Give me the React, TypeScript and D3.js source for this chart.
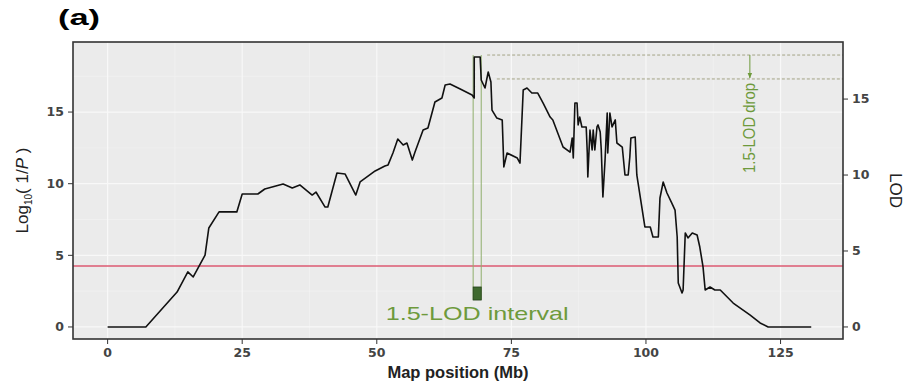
import React from 'react'
import * as d3 from 'd3'

// QTL scan
const positionMb = [
	0, 7.1, 12.9, 14.9, 15.9, 18.1, 18.8, 20.7, 24.0, 25.0, 27.9, 29.2, 32.6, 34.3, 35.7, 38.0, 38.7, 40.4, 40.9,
	42.6, 44.1, 46.1, 46.9, 49.7, 51.5, 52.1, 53.0, 53.9, 54.9, 55.6, 56.6, 57.1, 58.6, 59.5, 60.8, 62.1, 62.7,
	63.6, 65.5, 67.7, 68.1, 68.1, 69.2, 69.4, 70.1, 70.7, 71.2, 71.4, 72.3, 73.3, 73.6, 74.2, 76.1, 76.6, 77.2,
	77.9, 78.8, 79.9, 80.9, 82.2, 82.7, 84.6, 85.9, 86.3, 86.5, 86.8, 87.2, 87.4, 87.7, 88.1, 88.9, 89.1, 89.2,
	89.6, 90.0, 90.2, 90.5, 90.9, 91.1, 91.5, 91.7, 92.0, 92.4, 92.8, 92.9, 93.3, 93.7, 94.3, 94.6, 95.6, 96.1,
	96.7, 97.0, 97.2, 98.0, 98.3, 99.8, 100.8, 101.3, 102.3, 102.6, 103.2, 103.9, 104.8, 105.4, 105.8, 106.0,
	106.7, 106.9, 107.3, 107.8, 108.6, 109.5, 110.0, 110.6, 111.0, 111.9, 112.8, 113.8, 116.2, 119.3, 121.2,
	122.7, 130.7,
]
const log10P = [
	0, 0, 2.44, 3.84, 3.49, 5.02, 6.91, 8.03, 8.03, 9.28, 9.28, 9.63, 9.98, 9.7, 9.91, 9.21, 9.42, 8.37, 8.37,
	10.75, 10.68, 9.21, 10.12, 10.89, 11.24, 11.31, 12.14, 13.12, 12.7, 12.84, 11.65, 12.21, 13.75, 13.89, 15.7,
	15.98, 16.89, 16.96, 16.61, 16.19, 15.98, 18.84, 18.84, 17.24, 16.68, 17.8, 17.1, 15.14, 14.58, 14.45, 11.17,
	12.14, 11.79, 11.44, 16.54, 16.68, 16.33, 16.33, 15.63, 14.65, 14.45, 12.56, 12.21, 13.19, 11.79, 15.63,
	15.63, 14.1, 14.65, 13.96, 13.96, 12.14, 10.47, 13.75, 12.35, 13.75, 12.35, 13.96, 14.1, 13.61, 12.35, 9.07,
	11.65, 14.93, 12.14, 14.93, 13.96, 14.45, 12.84, 12.56, 10.61, 10.61, 11.86, 13.19, 13.26, 10.61, 6.98, 6.98,
	6.28, 6.28, 9.0, 10.12, 9.35, 8.65, 8.16, 6.28, 3.07, 2.37, 2.58, 6.56, 6.21, 6.56, 6.42, 5.58, 4.19, 2.58,
	2.79, 2.58, 2.58, 1.67, 0.84, 0.28, 0, 0,
]

const xTicks = [0, 25, 50, 75, 100, 125]
const yTicks = [0, 5, 10, 15]
const lodTicks = [0, 5, 10, 15]
const lodPerLog10P = 0.943
const threshold = 4.26
const intervalMb = [67.9, 69.4]
const intervalBox = [1.88, 2.79]
const peakLevel = 18.98
const dropLevel = 17.31
const dropStartMb = [70.5, 72.3]
const arrowMb = 119.3

const W = 905
const H = 383
const panel = { left: 73, right: 843, top: 42, bottom: 339 }
const green = '#6e9a3c'
const tickFont = 'DejaVu Sans, sans-serif'
const narrow = '"Liberation Sans Narrow", "Liberation Sans", Arial, sans-serif'

export default function App() {
	const x = d3.scaleLinear().domain([-6.43, 136.6]).range([panel.left, panel.right])
	const y = d3.scaleLinear().domain([-0.84, 19.89]).range([panel.bottom, panel.top])
	const yLod = d3
		.scaleLinear()
		.domain([-0.84 * lodPerLog10P, 19.89 * lodPerLog10P])
		.range([panel.bottom, panel.top])

	const pts = positionMb.map((p, i) => [p, log10P[i]] as [number, number])
	const line = d3
		.line<[number, number]>()
		.x((d) => x(d[0]))
		.y((d) => y(d[1]))

	const xMinor = [12.5, 37.5, 62.5, 87.5, 112.5]
	const yMinor = [2.5, 7.5, 12.5, 17.5]

	return (
		<svg
			width={W}
			height={H}
			style={{ position: 'absolute', left: 0, top: 0, background: '#fff' }}
		>
			<defs>
				<marker id="arr" viewBox="0 0 10 10" refX="9" refY="5" markerWidth="6" markerHeight="6" orient="auto">
					<path d="M0,1 L10,5 L0,9 z" fill={green} />
				</marker>
			</defs>

			<text
				x={58}
				y={25}
				fontFamily="Liberation Sans, Arial, sans-serif"
				fontWeight="bold"
				fontSize={22}
				textLength={42}
				lengthAdjust="spacingAndGlyphs"
			>
				(a)
			</text>

			{/* panel */}
			<rect
				x={panel.left}
				y={panel.top}
				width={panel.right - panel.left}
				height={panel.bottom - panel.top}
				fill="#ebebeb"
			/>
			{xMinor.map((t) => (
				<line key={'xm' + t} x1={x(t)} x2={x(t)} y1={panel.top} y2={panel.bottom} stroke="#f3f3f3" strokeWidth={0.6} />
			))}
			{yMinor.map((t) => (
				<line key={'ym' + t} x1={panel.left} x2={panel.right} y1={y(t)} y2={y(t)} stroke="#f3f3f3" strokeWidth={0.6} />
			))}
			{xTicks.map((t) => (
				<line key={'xg' + t} x1={x(t)} x2={x(t)} y1={panel.top} y2={panel.bottom} stroke="#f8f8f8" strokeWidth={1.2} />
			))}
			{yTicks.map((t) => (
				<line key={'yg' + t} x1={panel.left} x2={panel.right} y1={y(t)} y2={y(t)} stroke="#f8f8f8" strokeWidth={1.2} />
			))}

			{/* threshold */}
			<line
				x1={panel.left}
				x2={panel.right}
				y1={y(threshold)}
				y2={y(threshold)}
				stroke="#dc5a72"
				strokeWidth={1.6}
			/>

			{/* support interval */}
			{intervalMb.map((m) => (
				<line key={'iv' + m} x1={x(m)} x2={x(m)} y1={y(peakLevel)} y2={y(intervalBox[0])} stroke="#8fae6c" strokeWidth={1} />
			))}
			<rect
				x={x(intervalMb[0])}
				y={y(intervalBox[1])}
				width={x(intervalMb[1]) - x(intervalMb[0])}
				height={y(intervalBox[0]) - y(intervalBox[1])}
				fill="#3f6a2f"
				stroke="#23401a"
				strokeWidth={0.8}
			/>

			{/* drop lines */}
			<line x1={x(dropStartMb[0])} x2={panel.right} y1={y(peakLevel)} y2={y(peakLevel)} stroke="#a3a385" strokeWidth={1} strokeDasharray="3,2" />
			<line x1={x(dropStartMb[1])} x2={panel.right} y1={y(dropLevel)} y2={y(dropLevel)} stroke="#a3a385" strokeWidth={1} strokeDasharray="3,2" />
			<line
				x1={x(arrowMb)}
				x2={x(arrowMb)}
				y1={y(peakLevel)}
				y2={y(dropLevel) - 1}
				stroke={green}
				strokeWidth={1}
				markerEnd="url(#arr)"
			/>

			<path d={line(pts) || ''} fill="none" stroke="#111" strokeWidth={1.6} strokeLinejoin="round" />

			<text
				x={x((intervalMb[0] + intervalMb[1]) / 2)}
				y={320}
				textAnchor="middle"
				fill={green}
				fontFamily="Liberation Sans, Arial, sans-serif"
				fontSize={19}
				textLength={183}
				lengthAdjust="spacingAndGlyphs"
			>
				1.5-LOD interval
			</text>
			<text
				transform={`translate(${x(arrowMb) + 5},${128}) rotate(-90)`}
				textAnchor="middle"
				fill={green}
				fontFamily={narrow}
				fontSize={16}
				textLength={90}
				lengthAdjust="spacingAndGlyphs"
			>
				1.5-LOD drop
			</text>

			<rect
				x={panel.left}
				y={panel.top}
				width={panel.right - panel.left}
				height={panel.bottom - panel.top}
				fill="none"
				stroke="#333"
				strokeWidth={1.6}
			/>

			{/* left axis */}
			{yTicks.map((t) => (
				<g key={'yl' + t}>
					<line x1={panel.left - 5} x2={panel.left} y1={y(t)} y2={y(t)} stroke="#333" strokeWidth={1} />
					<text
						x={panel.left - 9}
						y={y(t)}
						dy="0.35em"
						textAnchor="end"
						fontFamily={tickFont}
						fontWeight="bold"
						fontSize={12.5}
						fill="#444"
					>
						{t}
					</text>
				</g>
			))}
			{/* right axis (LOD) */}
			{lodTicks.map((t) => (
				<g key={'yr' + t}>
					<line x1={panel.right} x2={panel.right + 5} y1={yLod(t)} y2={yLod(t)} stroke="#333" strokeWidth={1} />
					<text
						x={panel.right + 9}
						y={yLod(t)}
						dy="0.35em"
						fontFamily={tickFont}
						fontWeight="bold"
						fontSize={12.5}
						fill="#444"
					>
						{t}
					</text>
				</g>
			))}
			{/* bottom axis */}
			{xTicks.map((t) => (
				<g key={'xl' + t}>
					<line x1={x(t)} x2={x(t)} y1={panel.bottom} y2={panel.bottom + 5} stroke="#333" strokeWidth={1} />
					<text
						x={x(t)}
						y={353}
						dy="0.35em"
						textAnchor="middle"
						fontFamily={tickFont}
						fontWeight="bold"
						fontSize={12.5}
						fill="#444"
					>
						{t}
					</text>
				</g>
			))}

			<text
				x={(panel.left + panel.right) / 2}
				y={378}
				textAnchor="middle"
				fontFamily="Liberation Sans, Arial, sans-serif"
				fontWeight="bold"
				fontSize={16.5}
				fill="#222"
			>
				Map position (Mb)
			</text>
			<text
				transform={`translate(28,${(panel.top + panel.bottom) / 2}) rotate(-90)`}
				textAnchor="middle"
				fontFamily={narrow}
				fontSize={17}
				fill="#222"
			>
				Log<tspan fontSize={10} dy={4}>10</tspan>
				<tspan dy={-4}>( 1/</tspan>
				<tspan fontStyle="italic">P</tspan>
				<tspan> )</tspan>
			</text>
			<text
				transform={`translate(890,${(panel.top + panel.bottom) / 2}) rotate(90)`}
				textAnchor="middle"
				fontFamily={narrow}
				fontSize={17}
				fill="#222"
			>
				LOD
			</text>
		</svg>
	)
}
